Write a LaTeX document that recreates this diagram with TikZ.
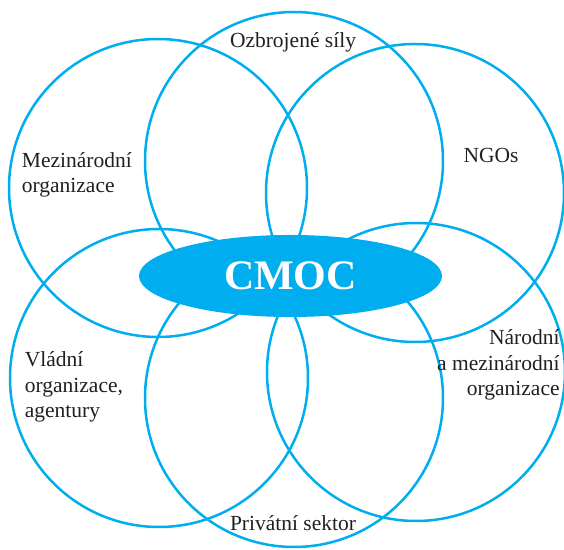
\documentclass[tikz,border=0pt]{standalone}
\usepackage{fontspec}
\setmainfont{Liberation Serif}
\usetikzlibrary{shapes.geometric}
\definecolor{cCyan}{HTML}{00AEEF}
\definecolor{cText}{HTML}{231F20}

\begin{document}
\begin{tikzpicture}[x=0.5pt, y=-0.5pt,
      ring/.style  = {circle, draw=cCyan, line width=1.25pt, minimum size=149pt, inner sep=0pt},
      hub/.style   = {ellipse, fill=cCyan, minimum width=151.5pt, minimum height=41pt, inner sep=0pt,
                      text=white, font=\fontsize{21}{25}\selectfont\bfseries},
      lbl/.style   = {inner sep=0pt, text=cText, font=\fontsize{10.75}{12.75}\selectfont} ]
    \useasboundingbox (0,0) rectangle (564,550);

    \node[ring] (armed)  at (294,161) {};
    \node[ring] (intl)   at (158,188) {};
    \node[ring] (ngo)    at (415,193) {};
    \node[ring] (gov)    at (159,378) {};
    \node[ring] (natl)   at (416,372) {};
    \node[ring] (priv)   at (294,398) {};

    \node[hub] (cmoc) at (290.5,276) {CMOC};

    \node[lbl]                          (tArmed) at (293,42)    {Ozbrojené síly};
    \node[lbl, anchor=west, align=left]  (tIntl)  at (21.5,175) {Mezinárodní\\organizace};
    \node[lbl]                          (tNgo)   at (491,155)   {NGOs};
    \node[lbl, anchor=west, align=left]  (tGov)   at (24.5,387) {Vládní\\organizace,\\agentury};
    \node[lbl, anchor=east, align=right] (tNatl)  at (560,365)  {Národní\\a mezinárodní\\organizace};
    \node[lbl]                          (tPriv)  at (293,523)   {Privátní sektor};
  \end{tikzpicture}
\end{document}
